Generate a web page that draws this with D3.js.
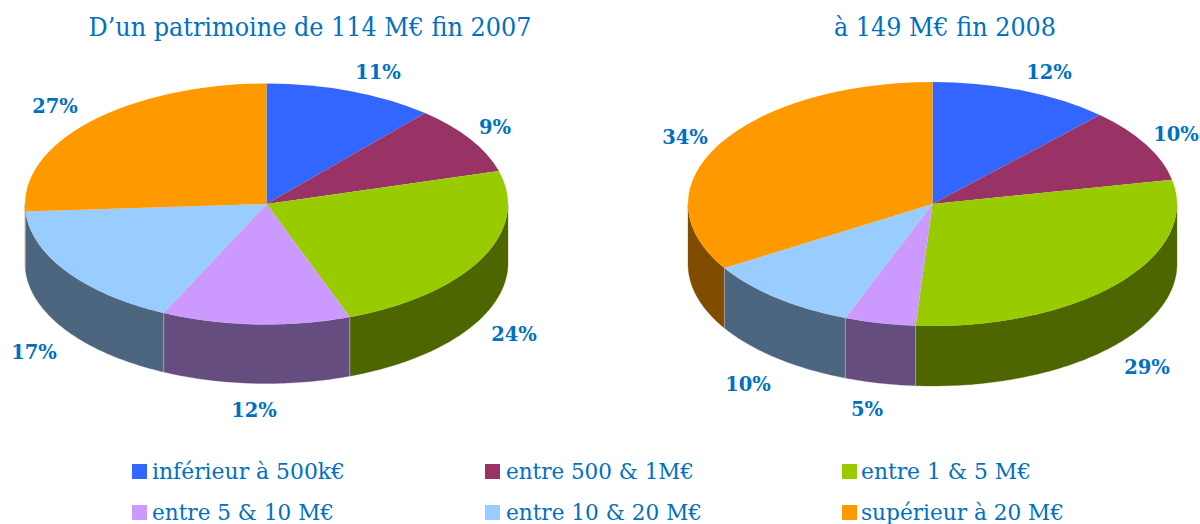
<!DOCTYPE html>
<html><head><meta charset="utf-8">
<script src="https://cdn.jsdelivr.net/npm/d3@7"></script>
<style>html,body{margin:0;padding:0;background:#fff}svg{display:block}text{font-family:"DejaVu Serif","Liberation Serif",serif;fill:#0070c0}</style>
</head><body><svg id="c" width="1200" height="524"></svg>
<script>
const categories = ["inférieur à 500k€","entre 500 & 1M€","entre 1 & 5 M€","entre 5 & 10 M€","entre 10 & 20 M€","supérieur à 20 M€"];
const colors = ["#3366ff","#993366","#99cc00","#cc99ff","#99ccff","#ff9900"];
const sideColors = ["#1a3380","#4d1a33","#4d6600","#664d80","#4d6680","#804d00"];
const shares2007 = [11.4,9.2,23.8,12.6,17.0,26.0];
const shares2008 = [12.0,9.8,29.3,4.7,10.4,33.8];
const labels2007 = ["11%","9%","24%","12%","17%","27%"];
const labels2008 = ["12%","10%","29%","5%","10%","34%"];
const titles = ["D’un patrimoine de 114 M€ fin 2007","à 149 M€ fin 2008"];
const labelPos2007 = [[379,78],[496,133],[515,340],[255,416],[35,358],[56,112]];
const labelPos2008 = [[1050,78],[1177,140],[1148,373],[868,415],[749,390],[686,143]];

const svg = d3.select("#c");
function drawPie(shares, labels, lpos, cx, cy, rx, ry, depth){
  const g = svg.append("g").attr("transform",`translate(${cx},${cy})`);
  const arcs = d3.pie().sort(null)(shares);
  const px = a => rx*Math.sin(a), py = a => -ry*Math.cos(a);
  const side = d3.area().x(px).y0(py).y1(a=>py(a)+depth);
  const lo = Math.PI/2, hi = 3*Math.PI/2;
  arcs.forEach((d,i)=>{
    const a0 = Math.max(d.startAngle,lo), a1 = Math.min(d.endAngle,hi);
    if(a1<=a0) return;
    const n = Math.ceil((a1-a0)*60);
    const as = d3.range(n+1).map(k=>a0+(a1-a0)*k/n);
    g.append("path").attr("d",side(as)).attr("fill",sideColors[i])
      .attr("stroke",sideColors[i]).attr("stroke-width",0.3);
    if(d.startAngle>lo && d.startAngle<hi){
      g.append("line").attr("x1",px(d.startAngle)).attr("x2",px(d.startAngle))
       .attr("y1",py(d.startAngle)).attr("y2",py(d.startAngle)+depth)
       .attr("stroke","#a9a9b5").attr("stroke-width",0.8);
    }
  });
  const R = 100;
  const arc = d3.arc().innerRadius(0).outerRadius(R);
  const top = g.append("g").attr("transform",`scale(${rx/R},${ry/R})`);
  top.selectAll("path").data(arcs).join("path").attr("d",arc)
    .attr("fill",(d,i)=>colors[i]);
  labels.forEach((t,i)=>{
    svg.append("text").attr("x",lpos[i][0]-1).attr("y",lpos[i][1]+0.5).attr("text-anchor","middle")
      .attr("font-size",19.5).attr("font-weight","bold").text(t);
  });
}
drawPie(shares2007,labels2007,labelPos2007,266.5,204,241.5,120.5,59);
drawPie(shares2008,labels2008,labelPos2008,932.5,204,244.5,122,60);

svg.append("text").attr("x",310).attr("y",36).attr("text-anchor","middle").attr("font-size",25.5)
  .attr("textLength",443).attr("lengthAdjust","spacingAndGlyphs").text(titles[0]);
svg.append("text").attr("x",945).attr("y",36).attr("text-anchor","middle").attr("font-size",25.5)
  .attr("textLength",222).attr("lengthAdjust","spacingAndGlyphs").text(titles[1]);

const colX = d3.scaleOrdinal().domain([0,1,2]).range([132,485,842]);
const rowY = d3.scaleOrdinal().domain([0,1]).range([464,505]);
const textX = d3.scaleOrdinal().domain([0,1,2]).range([20,21,19]);
const legendWidths = [193,188,170,182,196,203];
const legend = svg.selectAll("g.leg").data(categories).join("g").attr("class","leg")
  .attr("transform",(d,i)=>`translate(${colX(i%3)},${rowY(Math.floor(i/3))})`);
legend.append("rect").attr("width",15).attr("height",15).attr("fill",(d,i)=>colors[i]);
legend.append("text").attr("x",(d,i)=>textX(i%3)).attr("y",15).attr("font-size",23)
  .attr("textLength",(d,i)=>legendWidths[i]).attr("lengthAdjust","spacingAndGlyphs").text(d=>d);
</script></body></html>
